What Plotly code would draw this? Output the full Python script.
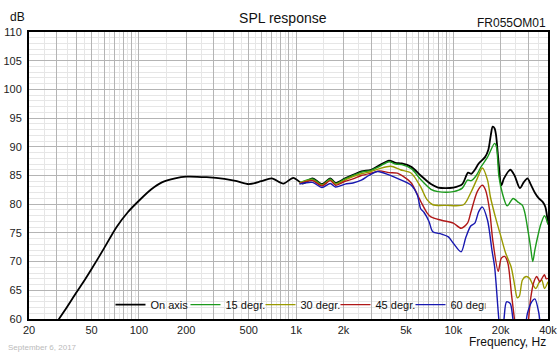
import plotly.graph_objects as go

# ---------------- data ----------------
freq_on = [28, 31, 34, 40, 45, 50, 60, 72, 85, 100, 120, 140, 170, 200, 270, 350, 420, 500, 600, 700,
           830, 960, 1100, 1270, 1460, 1650, 1780, 2050, 2300, 2600, 3000, 3400, 3900, 4300, 4700,
           5400, 6200, 7200, 8000, 10000, 11400, 12400, 13000, 13700, 14500, 15900, 16700, 17300,
           17800, 18300, 18700, 19300, 20200, 21000, 23000, 24500, 26500, 28000, 29600, 31000,
           33000, 35000, 37000, 38500, 40000]
spl_on = [58.3, 60.0, 61.6, 64.6, 66.7, 68.7, 72.3, 76.0, 78.6, 80.6, 82.6, 83.8, 84.5, 84.8, 84.7, 84.4, 84.0, 83.5, 84.0, 84.5,
          83.6, 84.6, 83.6, 84.5, 83.5, 84.5, 83.7, 84.5, 85.1, 85.7, 86.0, 86.8, 87.6, 87.2, 87.1,
          86.5, 85.0, 83.5, 82.9, 82.9, 83.5, 85.5, 85.3, 86.0, 87.1, 88.2, 89.5, 92.0,
          93.5, 93.2, 92.0, 88.0, 83.3, 84.5, 86.0, 85.0, 82.8, 83.8, 84.5, 83.5,
          82.0, 81.0, 80.4, 79.5, 76.5]

freq_15 = [1050, 1270, 1460, 1650, 1780, 2050, 2300, 2600, 3000, 3400, 3900, 4300, 4700, 5400, 6200,
           7200, 8000, 10000, 11400, 12300, 13000, 14000, 15000, 16500, 18300, 18800, 19500, 20500,
           22000, 24000, 26000, 27500, 28500, 30000, 31000, 32000, 33000, 34500, 36000, 38000, 40000]
spl_15 = [83.7, 84.4, 83.4, 84.4, 83.6, 84.4, 85.0, 85.6, 85.9, 86.6, 87.4, 87.0, 86.9, 86.2, 84.3,
          82.6, 82.2, 82.2, 82.8, 84.2, 84.1, 85.0, 86.5, 88.2, 90.6, 90.0, 84.8, 81.9,
          79.7, 81.0, 80.3, 79.8, 78.5, 75.0, 72.5, 70.0, 72.0, 74.5, 76.5, 78.0, 76.5]

freq_30 = [1050, 1270, 1460, 1650, 1780, 2050, 2300, 2600, 3000, 3400, 4000, 4600, 5400, 6200, 6800,
           7400, 9000, 11600, 12900, 14200, 15300, 16500, 17200, 18500, 20200, 21500, 23300, 24500,
           25500, 26300, 27500, 29000, 30500, 32000, 33500, 35000, 36500, 38000, 40000]
spl_30 = [83.7, 84.2, 83.3, 84.2, 83.5, 84.2, 84.8, 85.3, 85.7, 86.2, 86.6, 86.0, 85.4, 83.0, 80.8,
          79.9, 79.8, 79.9, 82.0, 84.5, 86.3, 84.2, 81.3, 77.8, 74.1, 71.5, 69.1, 66.0,
          63.7, 64.0, 66.8, 67.4, 67.1, 66.0, 65.3, 66.3, 66.8, 65.3, 66.5]

freq_45 = [1050, 1270, 1460, 1650, 1780, 2050, 2300, 2600, 3100, 3400, 3900, 4400, 5000, 5400, 6200,
           6800, 7200, 8400, 10000, 11200, 12300, 12900, 14200, 15300, 16000, 17000, 17800, 19300,
           20200, 21200, 22200, 23500, 24600, 26000, 27500, 29500, 31000, 32300, 33900, 35500,
           37000, 38000, 39000, 40000]
spl_45 = [83.6, 84.1, 83.2, 84.1, 83.3, 84.0, 84.4, 85.0, 85.5, 85.8, 85.5, 85.4, 84.5, 83.7, 80.5,
          78.5, 77.8, 77.2, 76.7, 75.8, 76.7, 78.5, 82.2, 83.3, 82.5, 79.0, 73.8, 68.3,
          70.6, 70.9, 69.8, 64.0, 59.5, 55.0, 55.0, 58.0, 63.5, 66.2, 67.4, 66.5,
          67.3, 67.7, 67.0, 67.1]

freq_60 = [1050, 1270, 1460, 1650, 1780, 2050, 2300, 2600, 2900, 3300, 3900, 4400, 5400, 5900, 6200,
           6500, 7000, 7400, 8400, 9300, 10000, 11200, 12000, 12900, 13700, 14500, 15300, 16500,
           17600, 18300, 19500, 20300, 21000, 21800, 23000, 24000, 25500, 27500, 29600, 31500,
           33000, 35000, 36500, 40000]
spl_60 = [83.5, 83.8, 82.9, 83.6, 83.0, 83.5, 83.7, 84.2, 85.0, 85.7, 85.1, 84.5, 83.3, 81.6, 79.2,
          78.6, 77.0, 75.2, 74.8, 74.3, 73.2, 71.7, 74.2, 76.2, 76.7, 78.7, 79.5, 77.2,
          72.0, 69.1, 59.8, 56.0, 60.0, 63.0, 62.7, 59.8, 56.0, 56.0, 61.0, 63.0,
          63.5, 61.0, 57.0, 55.0]

series_names = ["On axis", "15 degr.", "30 degr.", "45 degr.", "60 degr."]
series_freqs = [freq_on, freq_15, freq_30, freq_45, freq_60]
series_spl = [spl_on, spl_15, spl_30, spl_45, spl_60]
series_colors = ["#000000", "#1c9a1c", "#9a9a00", "#b01818", "#1818b0"]
series_widths = [1.8, 1.4, 1.4, 1.4, 1.4]

label_freqs = [20, 50, 100, 200, 500, 1000, 2000, 5000, 10000, 20000, 40000]
label_texts = ["20", "50", "100", "200", "500", "1k", "2k", "5k", "10k", "20k", "40k"]

# grid frequencies: 1..9 x decade (major), half steps (minor)
major_f = []
minor_f = []
for dec in [10, 100, 1000, 10000]:
    for m in range(1, 10):
        f = m * dec
        if 20 <= f <= 40000:
            major_f.append(f)
        fm = (m + 0.5) * dec
        if 20 < fm < 40000:
            minor_f.append(fm)
major_text = [label_texts[label_freqs.index(f)] if f in label_freqs else "" for f in major_f]

FONT = "Arial, Liberation Sans, sans-serif"

fig = go.Figure()
for name, fx, sy, col, w in zip(series_names, series_freqs, series_spl, series_colors, series_widths):
    fig.add_trace(go.Scatter(x=fx, y=sy, mode="lines", name=name,
                             line=dict(color=col, width=w, shape="spline", smoothing=0.8)))

fig.update_layout(
    width=560, height=356,
    margin=dict(l=29, r=12, t=32, b=37, autoexpand=False),
    paper_bgcolor="white", plot_bgcolor="white",
    font=dict(family=FONT, size=11, color="#222222"),
    title=dict(text="SPL response", x=0.505, xanchor="center", y=0.95, yanchor="middle",
               font=dict(family=FONT, size=14, color="#111111")),
    showlegend=True,
    legend=dict(orientation="h", x=0.157, xanchor="left", y=0.05, yanchor="middle",
                bgcolor="rgba(0,0,0,0)", font=dict(family=FONT, size=11, color="#111111"),
                itemwidth=30, entrywidth=30, entrywidthmode="pixels", tracegroupgap=0),
    xaxis=dict(type="log", range=[1.30103, 4.60206], tickmode="array", tickvals=major_f,
               ticktext=major_text, showgrid=True, gridcolor="#b4b4b4", gridwidth=1,
               minor=dict(tickmode="array", tickvals=minor_f, showgrid=True, gridcolor="#e6e6e6", gridwidth=1),
               showline=True, linecolor="black", linewidth=2, mirror=True, ticks="",
               automargin=False, zeroline=False, tickfont=dict(size=11, color="#222222")),
    yaxis=dict(range=[60, 110], tickmode="linear", tick0=60, dtick=5, showgrid=True,
               gridcolor="#b4b4b4", gridwidth=1,
               minor=dict(dtick=1, showgrid=True, gridcolor="#e6e6e6", gridwidth=1),
               showline=True, linecolor="black", linewidth=2, mirror=True, ticks="",
               automargin=False, ticklabelstandoff=3, zeroline=False,
               tickfont=dict(size=11, color="#222222")),
)

fig.add_annotation(text="dB", xref="paper", yref="paper", x=-0.04, y=1.0, yshift=15,
                   xanchor="left", yanchor="middle", showarrow=False,
                   font=dict(family=FONT, size=12, color="#111111"))
fig.add_annotation(text="FR055OM01", xref="paper", yref="paper", x=1.0, y=1.0, yshift=9,
                   xanchor="right", yanchor="middle", showarrow=False,
                   font=dict(family=FONT, size=12, color="#111111"))
fig.add_annotation(text="Frequency, Hz", xref="paper", yref="paper", x=1.0, y=0, yshift=-23,
                   xanchor="right", yanchor="middle", showarrow=False,
                   font=dict(family=FONT, size=12, color="#111111"))
fig.add_annotation(text="September 6, 2017", xref="paper", yref="paper", x=-0.045, y=0, yshift=-28,
                   xanchor="left", yanchor="middle", showarrow=False,
                   font=dict(family=FONT, size=8, color="#bbbbbb"))

fig.write_html("out.html", config={"displayModeBar": False},
               post_script="document.body.style.margin='0';document.body.style.padding='0';")
